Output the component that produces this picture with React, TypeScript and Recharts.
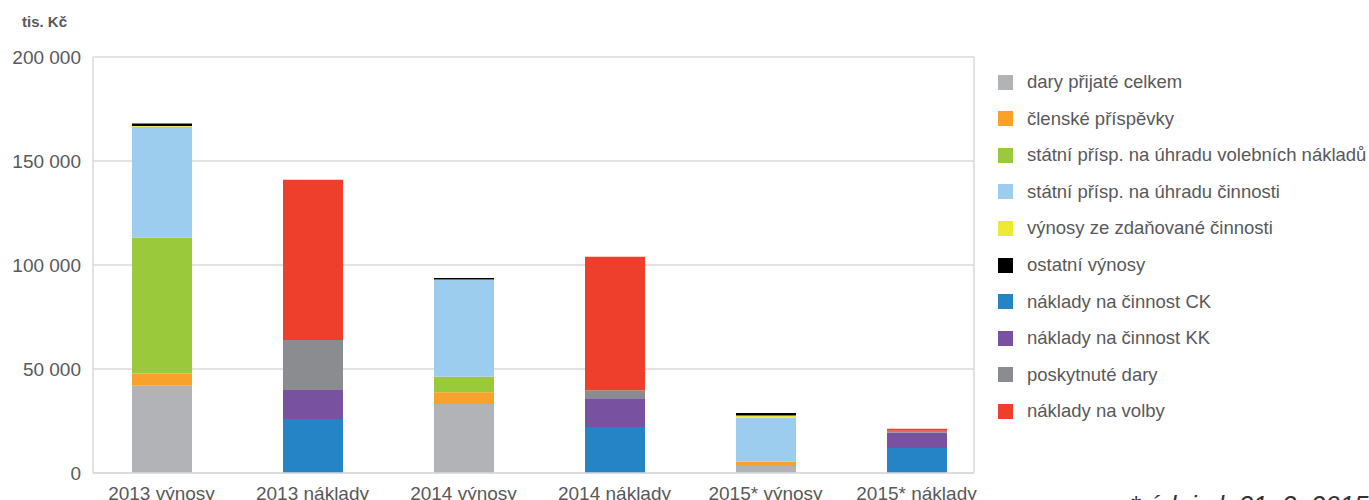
import React from 'react';
import { BarChart, Bar, XAxis, YAxis, CartesianGrid } from 'recharts';

const categories = ['2013 výnosy', '2013 náklady', '2014 výnosy', '2014 náklady', '2015* výnosy', '2015* náklady'];

const daryPrijate = [42000, 0, 33200, 0, 3400, 0];
const clenskePrispevky = [5800, 0, 5600, 0, 2000, 0];
const statniVolebni = [65400, 0, 7500, 0, 0, 0];
const statniCinnost = [53300, 0, 46500, 0, 21200, 0];
const vynosyZdanovane = [300, 0, 200, 0, 1100, 0];
const ostatniVynosy = [1200, 0, 700, 0, 1100, 0];
const nakladyCK = [0, 26000, 0, 22100, 0, 12000];
const nakladyKK = [0, 13900, 0, 13800, 0, 7400];
const poskytnuteDary = [0, 24100, 0, 3900, 0, 900];
const nakladyVolby = [0, 77000, 0, 64200, 0, 1000];

const yTicks = [0, 50000, 100000, 150000, 200000];
const unitLabel = 'tis. Kč';
const footnote = '* údaje k 31. 3. 2015';

const series = [
  { key: 'dary', name: 'dary přijaté celkem', color: '#b1b3b6', values: daryPrijate },
  { key: 'clenske', name: 'členské příspěvky', color: '#f8a22c', values: clenskePrispevky },
  { key: 'volebni', name: 'státní přísp. na úhradu volebních nákladů', color: '#9aca3c', values: statniVolebni },
  { key: 'cinnost', name: 'státní přísp. na úhradu činnosti', color: '#9dcdee', values: statniCinnost },
  { key: 'zdanovane', name: 'výnosy ze zdaňované činnosti', color: '#eeea31', values: vynosyZdanovane },
  { key: 'ostatni', name: 'ostatní výnosy', color: '#000000', values: ostatniVynosy },
  { key: 'ck', name: 'náklady na činnost CK', color: '#2484c6', values: nakladyCK },
  { key: 'kk', name: 'náklady na činnost KK', color: '#7851a0', values: nakladyKK },
  { key: 'poskytnute', name: 'poskytnuté dary', color: '#8b8c90', values: poskytnuteDary },
  { key: 'volby', name: 'náklady na volby', color: '#ee3e2c', values: nakladyVolby },
];

const data = categories.map((c, i) => {
  const row: Record<string, string | number> = { name: c };
  series.forEach((s) => {
    row[s.key] = s.values[i];
  });
  return row;
});

const fmt = (v: number) => String(v).replace(/\B(?=(\d{3})+(?!\d))/g, ' ');

const FONT = '"Liberation Sans", Arial, sans-serif';
const TEXT = '#58595b';
const GRID = '#dadada';

export default function App() {
  return (
    <div
      style={{
        position: 'absolute',
        left: 0,
        top: 0,
        width: 1369,
        height: 500,
        overflow: 'hidden',
        background: '#fff',
        fontFamily: FONT,
      }}
    >
      <div
        style={{
          position: 'absolute',
          left: 22,
          top: 14,
          fontSize: 15,
          lineHeight: '15px',
          fontWeight: 'bold',
          color: TEXT,
          whiteSpace: 'nowrap',
        }}
      >
        {unitLabel}
      </div>
      <BarChart
        width={1369}
        height={500}
        data={data}
        margin={{ top: 57, right: 395, bottom: 0, left: 0 }}
        barSize={60}
      >
        <CartesianGrid
          stroke={GRID}
          strokeWidth={1.5}
          horizontal={true}
          vertical={true}
          verticalCoordinatesGenerator={(props: any) => [props.offset.left + props.offset.width]}
        />
        <XAxis
          dataKey="name"
          type="category"
          padding={{ left: -7, right: -18 }}
          axisLine={{ stroke: GRID, strokeWidth: 1.5 }}
          tickLine={false}
          tickSize={0}
          tickMargin={14}
          interval={0}
          height={27}
          tick={{ fill: TEXT, fontSize: 19, fontFamily: FONT }}
        />
        <YAxis
          type="number"
          domain={[0, 200000]}
          ticks={yTicks}
          width={93}
          axisLine={{ stroke: GRID, strokeWidth: 1.5 }}
          tickLine={false}
          tickSize={0}
          tickMargin={12}
          tickFormatter={fmt}
          tick={{ fill: TEXT, fontSize: 19, fontFamily: FONT }}
        />
        {series.map((s) => (
          <Bar
            key={s.key}
            dataKey={s.key}
            name={s.name}
            stackId="a"
            fill={s.color}
            isAnimationActive={false}
          />
        ))}
      </BarChart>
      {series.map((s, i) => (
        <div
          key={s.key}
          style={{
            position: 'absolute',
            left: 998,
            top: 82 + i * 36.6 - 12,
            height: 24,
            display: 'flex',
            alignItems: 'center',
            whiteSpace: 'nowrap',
          }}
        >
          <div style={{ width: 15, height: 15, background: s.color, marginRight: 14 }} />
          <span style={{ fontSize: 18.5, color: TEXT, fontFamily: FONT }}>{s.name}</span>
        </div>
      ))}
      <div
        style={{
          position: 'absolute',
          left: 1130,
          top: 492,
          fontSize: 26,
          lineHeight: '26px',
          fontStyle: 'italic',
          color: '#333',
          whiteSpace: 'nowrap',
        }}
      >
        {footnote}
      </div>
    </div>
  );
}
